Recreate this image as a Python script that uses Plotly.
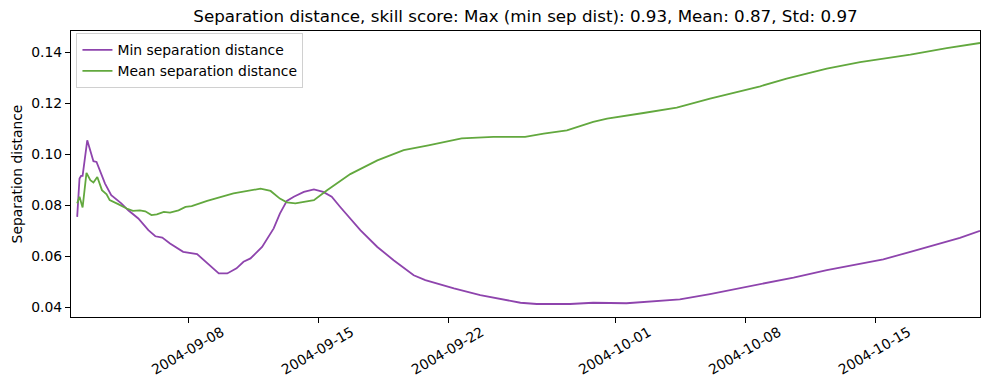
import plotly.graph_objects as go

min_dates = [
    "2004-09-02 00:00", "2004-09-02 03:00", "2004-09-02 05:00", "2004-09-02 07:00",
    "2004-09-02 13:00", "2004-09-02 17:00", "2004-09-02 21:00", "2004-09-03 01:00",
    "2004-09-03 08:00", "2004-09-03 12:00", "2004-09-03 20:00", "2004-09-04 09:00",
    "2004-09-04 18:00", "2004-09-05 07:00", "2004-09-05 20:00", "2004-09-06 05:00",
    "2004-09-06 14:00", "2004-09-07 00:00", "2004-09-07 17:00", "2004-09-08 11:00",
    "2004-09-09 15:00", "2004-09-10 02:00", "2004-09-10 14:00", "2004-09-10 23:00",
    "2004-09-11 08:00", "2004-09-11 23:00", "2004-09-12 14:00", "2004-09-12 22:00",
    "2004-09-13 07:00", "2004-09-13 16:00", "2004-09-14 05:00", "2004-09-14 18:00",
    "2004-09-15 06:00", "2004-09-15 17:00", "2004-09-16 04:00", "2004-09-17 06:00",
    "2004-09-18 04:00", "2004-09-19 01:00", "2004-09-20 03:00", "2004-09-20 18:00",
    "2004-09-22 07:00", "2004-09-23 17:00", "2004-09-25 21:00", "2004-09-26 18:00",
    "2004-09-28 13:00", "2004-09-29 19:00", "2004-10-01 14:00", "2004-10-04 11:00",
    "2004-10-06 02:00", "2004-10-08 19:00", "2004-10-10 14:00", "2004-10-12 09:00",
    "2004-10-14 04:00", "2004-10-15 10:00", "2004-10-16 21:00", "2004-10-18 16:00",
    "2004-10-19 13:00", "2004-10-20 15:00",
]
min_sep = [
    0.0754, 0.0905, 0.0915, 0.0915,
    0.1055, 0.1016, 0.0973, 0.0970,
    0.0918, 0.0885, 0.0839, 0.0807,
    0.0780, 0.0748, 0.0702, 0.0678,
    0.0673, 0.0650, 0.0617, 0.0608,
    0.0532, 0.0532, 0.0552, 0.0578,
    0.0591, 0.0636, 0.0709, 0.0767,
    0.0817, 0.0833, 0.0852, 0.0862,
    0.0852, 0.0833, 0.0793, 0.0702,
    0.0636, 0.0584, 0.0525, 0.0506,
    0.0473, 0.0447, 0.0417, 0.0412,
    0.0412, 0.0417, 0.0415, 0.0430,
    0.0451, 0.0490, 0.0516, 0.0545,
    0.0571, 0.0587, 0.0617, 0.0652,
    0.0672, 0.0699,
]

mean_dates = [
    "2004-09-02 00:00", "2004-09-02 03:00", "2004-09-02 07:00", "2004-09-02 12:00",
    "2004-09-02 17:00", "2004-09-02 21:00", "2004-09-03 02:00", "2004-09-03 08:00",
    "2004-09-03 14:00", "2004-09-03 18:00", "2004-09-04 05:00", "2004-09-04 16:00",
    "2004-09-05 00:00", "2004-09-05 09:00", "2004-09-05 16:00", "2004-09-06 00:00",
    "2004-09-06 07:00", "2004-09-06 16:00", "2004-09-07 00:00", "2004-09-07 11:00",
    "2004-09-07 20:00", "2004-09-08 04:00", "2004-09-09 00:00", "2004-09-10 10:00",
    "2004-09-11 21:00", "2004-09-12 10:00", "2004-09-12 22:00", "2004-09-13 07:00",
    "2004-09-13 18:00", "2004-09-14 18:00", "2004-09-15 11:00", "2004-09-16 17:00",
    "2004-09-18 04:00", "2004-09-19 14:00", "2004-09-20 22:00", "2004-09-22 17:00",
    "2004-09-24 10:00", "2004-09-26 03:00", "2004-09-27 03:00", "2004-09-28 09:00",
    "2004-09-29 19:00", "2004-09-30 13:00", "2004-10-02 12:00", "2004-10-04 07:00",
    "2004-10-06 02:00", "2004-10-08 19:00", "2004-10-10 05:00", "2004-10-12 09:00",
    "2004-10-14 04:00", "2004-10-16 21:00", "2004-10-18 20:00", "2004-10-20 15:00",
]
mean_sep = [
    0.0807, 0.0833, 0.0791, 0.0927,
    0.0898, 0.0889, 0.0911, 0.0859,
    0.0843, 0.0820, 0.0804, 0.0787,
    0.0778, 0.0780, 0.0776, 0.0761,
    0.0764, 0.0774, 0.0771, 0.0780,
    0.0793, 0.0796, 0.0817, 0.0846,
    0.0865, 0.0856, 0.0826, 0.0811,
    0.0807, 0.0820, 0.0859, 0.0922,
    0.0976, 0.1016, 0.1035, 0.1062,
    0.1068, 0.1068, 0.1081, 0.1094,
    0.1127, 0.1140, 0.1162, 0.1183,
    0.1218, 0.1267, 0.1297, 0.1336,
    0.1362, 0.1391, 0.1417, 0.1437,
]

x_ticks = ["2004-09-08", "2004-09-15", "2004-09-22", "2004-10-01", "2004-10-08", "2004-10-15"]
y_ticks = [0.04, 0.06, 0.08, 0.10, 0.12, 0.14]

title = "Separation distance, skill score: Max (min sep dist): 0.93, Mean: 0.87, Std: 0.97"

FONT = "DejaVu Sans"
FS = 13.9

fig = go.Figure()
fig.add_trace(go.Scatter(x=min_dates, y=min_sep, mode="lines", name="Min separation distance",
                         line=dict(color="#8e44ad", width=1.8)))
fig.add_trace(go.Scatter(x=mean_dates, y=mean_sep, mode="lines", name="Mean separation distance",
                         line=dict(color="#62a83e", width=1.8)))

fig.update_layout(
    width=989, height=390,
    margin=dict(l=71, r=9, t=31, b=73),
    paper_bgcolor="white", plot_bgcolor="white",
    font=dict(family=FONT, size=FS, color="black"),
    title=dict(text=title, x=(71 + 980) / 2 / 989, xanchor="center", y=1 - 16 / 390, yanchor="middle",
               font=dict(family=FONT, size=16.7, color="black")),
    showlegend=True,
    legend=dict(x=0.006, y=0.992, xanchor="left", yanchor="top",
                bgcolor="rgba(255,255,255,0.8)", bordercolor="#d0d0d0", borderwidth=1,
                font=dict(family=FONT, size=FS), itemwidth=30, tracegroupgap=0),
)
fig.update_xaxes(
    type="date",
    range=["2004-09-01 16:00", "2004-10-20 15:00"],
    tickvals=x_ticks, ticktext=x_ticks, tickangle=-30,
    ticks="outside", ticklen=5, tickcolor="black", tickwidth=1,
    showline=True, linecolor="black", linewidth=1, mirror=True,
    showgrid=False, zeroline=False,
    ticklabelshift=33, ticklabelstandoff=-4,
    tickfont=dict(family=FONT, size=FS, color="black"),
)
fig.update_yaxes(
    range=[0.0361, 0.1484],
    tickvals=y_ticks, tickformat=".2f",
    ticks="outside", ticklen=5, tickcolor="black", tickwidth=1,
    showline=True, linecolor="black", linewidth=1, mirror=True,
    showgrid=False, zeroline=False,
    title=dict(text="Separation distance", font=dict(family=FONT, size=FS, color="black"), standoff=5),
    tickfont=dict(family=FONT, size=FS, color="black"),
)

fig.write_html("out.html")
